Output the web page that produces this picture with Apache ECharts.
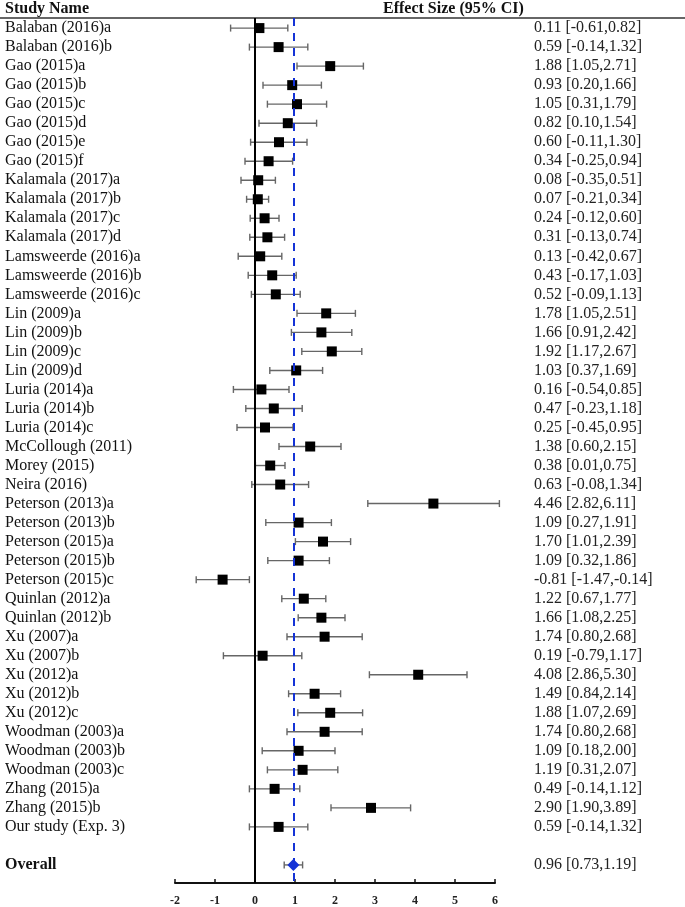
<!DOCTYPE html>
<html><head><meta charset="utf-8">
<script src="https://cdn.jsdelivr.net/npm/echarts@6/dist/echarts.min.js"></script>
<style>html,body{margin:0;padding:0;background:#fff}#c{width:685px;height:907px}</style>
</head><body><div id="c"></div>
<script>
const studies = ["Balaban (2016)a","Balaban (2016)b","Gao (2015)a","Gao (2015)b","Gao (2015)c","Gao (2015)d","Gao (2015)e","Gao (2015)f","Kalamala (2017)a","Kalamala (2017)b","Kalamala (2017)c","Kalamala (2017)d","Lamsweerde (2016)a","Lamsweerde (2016)b","Lamsweerde (2016)c","Lin (2009)a","Lin (2009)b","Lin (2009)c","Lin (2009)d","Luria (2014)a","Luria (2014)b","Luria (2014)c","McCollough (2011)","Morey (2015)","Neira (2016)","Peterson (2013)a","Peterson (2013)b","Peterson (2015)a","Peterson (2015)b","Peterson (2015)c","Quinlan (2012)a","Quinlan (2012)b","Xu (2007)a","Xu (2007)b","Xu (2012)a","Xu (2012)b","Xu (2012)c","Woodman (2003)a","Woodman (2003)b","Woodman (2003)c","Zhang (2015)a","Zhang (2015)b","Our study (Exp. 3)"];
const effect = [0.11,0.59,1.88,0.93,1.05,0.82,0.60,0.34,0.08,0.07,0.24,0.31,0.13,0.43,0.52,1.78,1.66,1.92,1.03,0.16,0.47,0.25,1.38,0.38,0.63,4.46,1.09,1.70,1.09,-0.81,1.22,1.66,1.74,0.19,4.08,1.49,1.88,1.74,1.09,1.19,0.49,2.90,0.59];
const lower = [-0.61,-0.14,1.05,0.20,0.31,0.10,-0.11,-0.25,-0.35,-0.21,-0.12,-0.13,-0.42,-0.17,-0.09,1.05,0.91,1.17,0.37,-0.54,-0.23,-0.45,0.60,0.01,-0.08,2.82,0.27,1.01,0.32,-1.47,0.67,1.08,0.80,-0.79,2.86,0.84,1.07,0.80,0.18,0.31,-0.14,1.90,-0.14];
const upper = [0.82,1.32,2.71,1.66,1.79,1.54,1.30,0.94,0.51,0.34,0.60,0.74,0.67,1.03,1.13,2.51,2.42,2.67,1.69,0.85,1.18,0.95,2.15,0.75,1.34,6.11,1.91,2.39,1.86,-0.14,1.77,2.25,2.68,1.17,5.30,2.14,2.69,2.68,2.00,2.07,1.12,3.89,1.32];
const overall = {name:"Overall", effect:0.96, lower:0.73, upper:1.19};
const xTicks = [-2,-1,0,1,2,3,4,5,6];

const fmt = v => v.toFixed(2);
const rows = studies.map((n,i)=>({name:n, effect:effect[i], lower:lower[i], upper:upper[i], pos:i, bold:false}));
const overallPos = studies.length - 1 + 2;
rows.push({name:overall.name, effect:overall.effect, lower:overall.lower, upper:overall.upper, pos:overallPos, bold:true});

const font = '"Liberation Serif","Times New Roman",serif';
const chart = echarts.init(document.getElementById('c'), null, {renderer:'canvas'});

function renderRow(params, api){
  const r = rows[params.dataIndex];
  const pL = api.coord([r.lower, r.pos]);
  const pU = api.coord([r.upper, r.pos]);
  const y = pL[1];
  const cap = 3.5;
  const ls = {stroke:'#666', lineWidth:1.4};
  const children = [
    {type:'line', shape:{x1:pL[0],y1:y,x2:pU[0],y2:y}, style:ls},
    {type:'line', shape:{x1:pL[0],y1:y-cap,x2:pL[0],y2:y+cap}, style:ls},
    {type:'line', shape:{x1:pU[0],y1:y-cap,x2:pU[0],y2:y+cap}, style:ls},
    {type:'text', x:5, y:y, style:{text:r.name, fill:'#111', font:(r.bold?'bold ':'')+'16px '+font, textVerticalAlign:'middle', textAlign:'left'}},
    {type:'text', x:534, y:y, style:{text:fmt(r.effect)+' ['+fmt(r.lower)+','+fmt(r.upper)+']', fill:'#222', font:'16px '+font, textVerticalAlign:'middle', textAlign:'left'}}
  ];
  return {type:'group', children};
}

const studyPts = rows.filter(r=>!r.bold).map(r=>[r.effect, r.pos]);
const overallPts = [[overall.effect, overallPos]];

chart.setOption({
  animation:false,
  grid:{left:175, right:190, top:18, bottom:24, containLabel:false},
  xAxis:{type:'value', min:-2, max:6, interval:1, splitLine:{show:false},
    axisLine:{show:true, onZero:false, lineStyle:{color:'#111', width:2}},
    axisTick:{show:true, inside:true, length:4, lineStyle:{color:'#111', width:1.5}},
    axisLabel:{color:'#222', fontFamily:font, fontWeight:'bold', fontSize:12, margin:12,
      formatter:v=> xTicks.includes(v) ? String(v) : ''}},
  yAxis:{type:'value', min:-0.53, max:44.95, inverse:true, show:false},
  graphic:[
    {type:'text', left:5, top:1, style:{text:'Study Name', font:'bold 16px '+font, fill:'#111'}},
    {type:'text', left:383, top:1, style:{text:'Effect Size (95% CI)', font:'bold 16px '+font, fill:'#111'}},
    {type:'line', shape:{x1:0,y1:18,x2:685,y2:18}, style:{stroke:'#333', lineWidth:1.5}}
  ],
  series:[
    {type:'custom', renderItem:renderRow, data:rows.map(r=>[r.lower,r.upper,r.pos]), z:2, silent:true},
    {type:'scatter', data:studyPts, symbol:'rect', symbolSize:10, itemStyle:{color:'#000', opacity:1}, z:4,
      markLine:{silent:true, symbol:'none', label:{show:false}, animation:false,
        data:[{xAxis:0, lineStyle:{color:'#000', width:2, type:'solid', opacity:1}},
              {xAxis:overall.effect, lineStyle:{color:'#1533d6', width:2, type:[8,7], opacity:1}}]}},
    {type:'scatter', data:overallPts, symbol:'diamond', symbolSize:[12,12], itemStyle:{color:'#1533d6', opacity:1}, z:5}
  ]
});
</script></body></html>
